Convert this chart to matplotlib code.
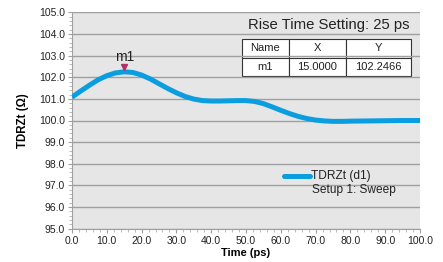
import matplotlib
matplotlib.use("Agg")
import matplotlib.pyplot as plt
from matplotlib.ticker import MultipleLocator, FormatStrFormatter

plt.rcParams["font.family"] = ["Liberation Sans", "DejaVu Sans"]

# Data
time_ps = [0, 2.5, 5, 7.5, 10, 12.5, 15, 17.5, 20, 22.5, 25, 27.5, 30, 32.5, 35, 37.5,
           40, 42.5, 45, 47.5, 50, 52.5, 55, 57.5, 60, 62.5, 65, 67.5, 70, 72.5, 75,
           77.5, 80, 85, 90, 95, 100]
tdrzt = [101.08, 101.36, 101.63, 101.88, 102.07, 102.2, 102.25, 102.22, 102.1, 101.92, 101.7,
         101.48, 101.28, 101.11, 100.99, 100.92, 100.9, 100.9, 100.91, 100.92, 100.92, 100.88,
         100.78, 100.63, 100.47, 100.32, 100.19, 100.09, 100.02, 99.98, 99.96,
         99.96, 99.97, 99.98, 99.99, 100.0, 100.0]
marker_name = "m1"
marker_x = 15.0
marker_y = 102.2466
table_cols = ["Name", "X", "Y"]
table_row = ["m1", "15.0000", "102.2466"]
title_text = "Rise Time Setting: 25 ps"
legend_label = "TDRZt (d1)"
legend_sub = "Setup 1: Sweep"

W, H = 443, 262
fig = plt.figure(figsize=(W / 100, H / 100), dpi=100)
fig.patch.set_facecolor("white")
ax = fig.add_axes([72 / W, 1 - 228.7 / H, (420 - 72) / W, (228.7 - 12.3) / H])
ax.set_facecolor("#e6e6e6")

ax.plot(time_ps, tdrzt, color="#0a9ee0", lw=3.6, solid_capstyle="butt", zorder=3)

ax.set_xlim(0, 100)
ax.set_ylim(95, 105)
ax.xaxis.set_major_locator(MultipleLocator(10))
ax.xaxis.set_minor_locator(MultipleLocator(2))
ax.yaxis.set_major_locator(MultipleLocator(1))
ax.yaxis.set_minor_locator(MultipleLocator(0.2))
ax.xaxis.set_major_formatter(FormatStrFormatter("%.1f"))
ax.yaxis.set_major_formatter(FormatStrFormatter("%.1f"))
ax.yaxis.grid(True, which="major", color="#a0a0a0", lw=1.0, zorder=1)
ax.set_axisbelow(True)
for s in ["top", "right"]:
    ax.spines[s].set_visible(False)
for s in ["left", "bottom"]:
    ax.spines[s].set_color("#a0a0a0")
    ax.spines[s].set_linewidth(0.8)
ax.tick_params(axis="both", which="major", length=3, width=0.8, color="#a0a0a0",
               labelsize=7.5, labelcolor="#222222", pad=2)
ax.tick_params(axis="both", which="minor", length=2, width=0.6, color="#b0b0b0")

ax.set_xlabel("Time (ps)", fontsize=8, fontweight="bold", labelpad=1.5)
ax.set_ylabel("TDRZt (Ω)", fontsize=8.3, fontweight="bold", labelpad=7.5)

# marker
ax.plot([marker_x], [marker_y + 0.23], marker="v", color="#b0306a", ms=4, zorder=4,
        linestyle="none")
ax.text(marker_x, marker_y + 0.35, marker_name, ha="center", va="bottom", fontsize=10,
        color="#222222")

# Rise time text
fig.text(409 / W, 1 - 25 / H, title_text, ha="right", va="center", fontsize=10.7,
         color="#222222")

# Marker table
tab = ax.table(cellText=[table_row], colLabels=table_cols, cellLoc="center",
               bbox=[(241.7 - 72) / (420 - 72), (228.7 - 76) / (228.7 - 12.3),
                     (410.7 - 241.7) / (420 - 72), (76 - 39.3) / (228.7 - 12.3)])
tab.auto_set_font_size(False)
widths = [47, 57.3, 64.7]
tot = sum(widths)
for (r, c), cell in tab.get_celld().items():
    cell.set_facecolor("white")
    cell.set_edgecolor("#333333")
    cell.set_linewidth(0.8)
    cell.set_width(widths[c] / tot * (410.7 - 241.7) / (420 - 72))
    cell.get_text().set_fontsize(8)
    cell.get_text().set_color("#222222")

# Legend
fig.add_artist(plt.Line2D([284 / W, 310 / W], [1 - 176 / H, 1 - 176 / H], color="#0a9ee0",
                          lw=3.6, solid_capstyle="round"))
fig.text(311 / W, 1 - 176 / H, legend_label, ha="left", va="center", fontsize=8.6,
         color="#222222")
fig.text(312 / W, 1 - 190.5 / H, legend_sub, ha="left", va="center", fontsize=8.6,
         color="#222222")

fig.savefig("out.png", dpi=100)
